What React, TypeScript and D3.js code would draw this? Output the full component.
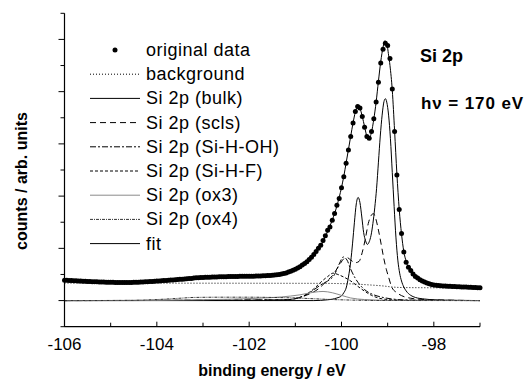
import * as d3 from 'd3';

// measured spectrum, 0.05 eV steps from -106 to -97 eV
const eStart = -106;
const eStep = 0.05;
const counts = [
  0.78, 0.78, 0.77, 0.77, 0.76, 0.76, 0.75, 0.75, 0.74, 0.74, 0.73, 0.73, 0.72, 0.72, 0.72, 0.71, 0.71, 0.71, 0.70, 0.70,
  0.70, 0.70, 0.69, 0.69, 0.69, 0.69, 0.69, 0.69, 0.69, 0.69, 0.70, 0.70, 0.70, 0.71, 0.71, 0.72, 0.72, 0.73, 0.73, 0.74,
  0.75, 0.75, 0.76, 0.77, 0.77, 0.78, 0.79, 0.79, 0.80, 0.81, 0.82, 0.82, 0.83, 0.84, 0.85, 0.85, 0.86, 0.87, 0.87, 0.88,
  0.88, 0.89, 0.89, 0.89, 0.90, 0.90, 0.90, 0.91, 0.91, 0.91, 0.91, 0.92, 0.92, 0.92, 0.92, 0.92, 0.93, 0.93, 0.93, 0.93,
  0.93, 0.93, 0.93, 0.94, 0.94, 0.94, 0.95, 0.95, 0.96, 0.96, 0.97, 0.98, 0.99, 1.00, 1.02, 1.04, 1.06, 1.09, 1.12, 1.16,
  1.20, 1.25, 1.30, 1.36, 1.42, 1.49, 1.57, 1.66, 1.76, 1.88, 2.00, 2.12, 2.30, 2.48, 2.69, 2.82, 3.08, 3.33, 3.65, 3.91,
  4.32, 4.74, 5.26, 5.77, 6.28, 6.80, 7.24, 7.43, 7.37, 7.05, 6.64, 6.28, 6.22, 6.47, 6.96, 7.60, 8.36, 9.10, 9.62, 9.85,
  9.77, 9.27, 8.10, 6.47, 4.81, 3.49, 2.57, 1.86, 1.47, 1.28, 1.15, 1.02, 0.92, 0.86, 0.80, 0.75, 0.71, 0.67, 0.64, 0.62,
  0.60, 0.59, 0.58, 0.57, 0.56, 0.56, 0.55, 0.55, 0.54, 0.54, 0.53, 0.53, 0.52, 0.52, 0.52, 0.51, 0.51, 0.50, 0.50, 0.49, 0.49
];

// [binding energy, intensity]
const background: [number, number][] = [
  [-106, 0.67], [-100.5, 0.66], [-99.8, 0.64], [-99.4, 0.6], [-99.1, 0.56], [-98.9, 0.52],
  [-98.7, 0.5], [-98, 0.49], [-97, 0.48]
];

const bulk: [number, number][] = [
  [-106, 0], [-100.6, 0], [-100.3, 0.03], [-100.1, 0.1], [-100.0, 0.18], [-99.95, 0.3], [-99.9, 0.48],
  [-99.85, 0.9], [-99.8, 1.5], [-99.76, 2.2], [-99.72, 3.0], [-99.68, 3.7], [-99.64, 3.95], [-99.6, 3.75],
  [-99.56, 3.2], [-99.52, 2.6], [-99.48, 2.3], [-99.44, 2.15], [-99.4, 2.25], [-99.36, 2.5], [-99.32, 2.95],
  [-99.28, 3.55], [-99.24, 4.3], [-99.2, 5.3], [-99.16, 6.3], [-99.12, 7.1], [-99.08, 7.62], [-99.05, 7.73],
  [-99.02, 7.6], [-98.98, 7.1], [-98.94, 6.2], [-98.9, 4.9], [-98.86, 3.6], [-98.82, 2.4], [-98.78, 1.55],
  [-98.74, 1.05], [-98.7, 0.75], [-98.65, 0.52], [-98.6, 0.37], [-98.5, 0.2], [-98.4, 0.12], [-98.2, 0.06],
  [-98.0, 0.03], [-97.5, 0.01], [-97, 0]
];

const scls: [number, number][] = [
  [-106, 0], [-101.2, 0.03], [-100.9, 0.12], [-100.7, 0.25], [-100.5, 0.45], [-100.35, 0.7], [-100.2, 0.95],
  [-100.05, 1.35], [-99.95, 1.6], [-99.88, 1.65], [-99.8, 1.55], [-99.7, 1.45], [-99.62, 1.5], [-99.55, 1.85],
  [-99.48, 2.4], [-99.42, 2.95], [-99.36, 3.25], [-99.31, 3.33], [-99.26, 3.15], [-99.2, 2.7], [-99.14, 2.15],
  [-99.09, 1.67], [-99.03, 1.2], [-98.98, 0.9], [-98.91, 0.51], [-98.8, 0.3], [-98.7, 0.19], [-98.5, 0.09],
  [-98.2, 0.04], [-97.5, 0.01], [-97, 0]
];

const siHOH: [number, number][] = [
  [-106, 0], [-101.2, 0.03], [-100.9, 0.12], [-100.65, 0.35], [-100.45, 0.6], [-100.3, 0.75], [-100.15, 1.0],
  [-100.05, 1.4], [-99.96, 1.67], [-99.88, 1.55], [-99.8, 1.2], [-99.7, 0.85], [-99.6, 0.6], [-99.5, 0.42],
  [-99.4, 0.3], [-99.3, 0.22], [-99.1, 0.12], [-98.9, 0.06], [-98.5, 0.02], [-97, 0]
];

const siHF: [number, number][] = [
  [-106, 0], [-101.3, 0.02], [-101.0, 0.08], [-100.8, 0.2], [-100.6, 0.45], [-100.45, 0.7], [-100.3, 0.92],
  [-100.18, 1.05], [-100.08, 1.0], [-99.95, 0.9], [-99.8, 0.75], [-99.65, 0.55], [-99.5, 0.36], [-99.35, 0.2],
  [-99.2, 0.1], [-99.0, 0.04], [-98.5, 0.01], [-97, 0]
];

const ox3: [number, number][] = [
  [-106, 0], [-104.5, 0], [-103.5, 0.02], [-102.5, 0.05], [-101.8, 0.09], [-101.3, 0.14], [-100.9, 0.22],
  [-100.6, 0.32], [-100.4, 0.35], [-100.2, 0.3], [-100.0, 0.2], [-99.8, 0.1], [-99.5, 0.04], [-99.0, 0.01], [-97, 0]
];

const ox4: [number, number][] = [
  [-106, 0], [-104.5, 0.01], [-104.0, 0.04], [-103.5, 0.09], [-103.2, 0.12], [-102.5, 0.13], [-102, 0.13],
  [-101.5, 0.12], [-101, 0.1], [-100.6, 0.07], [-100.2, 0.04], [-99.8, 0.02], [-99.3, 0.005], [-97, 0]
];

const fit: [number, number][] = [
  [-106, 0.76], [-105.5, 0.72], [-105, 0.7], [-104.5, 0.7], [-104, 0.75], [-103.5, 0.82], [-103, 0.88],
  [-102.5, 0.91], [-102, 0.93], [-101.5, 0.97], [-101.2, 1.06], [-101, 1.19], [-100.8, 1.41], [-100.6, 1.75],
  [-100.4, 2.25], [-100.3, 2.65], [-100.2, 3.08], [-100.1, 3.62], [-100.05, 3.95], [-100, 4.33], [-99.95, 4.76],
  [-99.9, 5.27], [-99.85, 5.78], [-99.8, 6.3], [-99.75, 6.8], [-99.7, 7.22], [-99.65, 7.42], [-99.6, 7.35],
  [-99.55, 7.05], [-99.5, 6.66], [-99.45, 6.3], [-99.4, 6.22], [-99.35, 6.45], [-99.3, 6.95], [-99.25, 7.6],
  [-99.2, 8.4], [-99.15, 9.15], [-99.1, 9.7], [-99.06, 9.95], [-99.02, 9.85], [-98.98, 9.4], [-98.95, 9.0],
  [-98.9, 8.05], [-98.85, 6.5], [-98.8, 4.85], [-98.75, 3.5], [-98.7, 2.55], [-98.65, 1.88], [-98.6, 1.5],
  [-98.5, 1.13], [-98.4, 0.93], [-98.2, 0.72], [-98, 0.6], [-97.5, 0.53], [-97, 0.49]
];

const xTicks = [-106, -105, -104, -103, -102, -101, -100, -99, -98, -97];
const xLabels = [-106, -104, -102, -100, -98];
const yTicks = [-1, 0, 1, 2, 3, 4, 5, 6, 7, 8, 9, 10, 11];

const series = [
  { name: 'background', data: background, dash: '1,2', color: '#000' },
  { name: 'Si 2p (bulk)', data: bulk, dash: null, color: '#000' },
  { name: 'Si 2p (scls)', data: scls, dash: '6,4', color: '#000' },
  { name: 'Si 2p (Si-H-OH)', data: siHOH, dash: '6,2,2,2', color: '#000' },
  { name: 'Si 2p (Si-H-F)', data: siHF, dash: '3,2', color: '#000' },
  { name: 'Si 2p (ox3)', data: ox3, dash: null, color: '#8a8a8a' },
  { name: 'Si 2p (ox4)', data: ox4, dash: '3,1,1,1', color: '#333' },
  { name: 'fit', data: fit, dash: null, color: '#000' }
];

const W = 527;
const H = 379;
const font = "'Liberation Sans', Arial, sans-serif";

export default function App() {
  const x = d3.scaleLinear().domain([-106, -97]).range([64.5, 480]);
  const y = d3.scaleLinear().domain([-1, 11]).range([326.7, 13.3]);

  const line = d3.line<[number, number]>()
    .x(d => x(d[0]))
    .y(d => y(d[1]))
    .curve(d3.curveMonotoneX);

  const points = counts.map((v, i) => [eStart + i * eStep, v] as [number, number]);

  const legendTop = 50;
  const legendGap = 24.2;

  return (
    <div style={{ position: 'absolute', left: 0, top: 0 }}>
      <svg width={W} height={H} style={{ display: 'block', background: '#fff' }}>
        {/* curves */}
        {series.map(s => (
          <path
            key={s.name}
            d={line(s.data) || ''}
            fill="none"
            stroke={s.color}
            strokeWidth={1}
            strokeDasharray={s.dash || undefined}
          />
        ))}
        {points.map((p, i) => (
          <circle key={i} cx={x(p[0])} cy={y(p[1])} r={2.5} fill="#000" />
        ))}

        {/* axes */}
        <line x1={x(-106)} x2={x(-106)} y1={y(11)} y2={y(-1)} stroke="#000" strokeWidth={1.2} />
        <line x1={x(-106)} x2={x(-97)} y1={y(-1)} y2={y(-1)} stroke="#000" strokeWidth={1.2} />
        {yTicks.map(t => (
          <line key={t} x1={x(-106) - (t % 2 === 0 ? 6 : 4)} x2={x(-106)} y1={y(t)} y2={y(t)} stroke="#000" strokeWidth={1} />
        ))}
        {xTicks.map(t => (
          <line key={t} x1={x(t)} x2={x(t)} y1={y(-1)} y2={y(-1) - (t % 2 === 0 ? 5 : 4)} stroke="#000" strokeWidth={1} />
        ))}
        {xLabels.map(t => (
          <text key={t} x={x(t)} y={350} textAnchor="middle" fontFamily={font} fontSize={17}>{t}</text>
        ))}
        <text x={272} y={376} textAnchor="middle" fontFamily={font} fontSize={16} fontWeight="bold">binding energy / eV</text>
        <text transform="translate(27,181) rotate(-90)" textAnchor="middle" fontFamily={font} fontSize={16} fontWeight="bold">counts / arb. units</text>

        {/* legend */}
        <g>
          <circle cx={115} cy={legendTop} r={2.5} fill="#000" />
          <text x={146} y={legendTop + 6} fontFamily={font} fontSize={18} letterSpacing={0.5}>original data</text>
          {series.map((s, i) => {
            const ly = legendTop + (i + 1) * legendGap;
            return (
              <g key={s.name}>
                <line x1={90} x2={140} y1={ly} y2={ly} stroke={s.color} strokeWidth={1} strokeDasharray={s.dash || undefined} />
                <text x={146} y={ly + 6} fontFamily={font} fontSize={18} letterSpacing={0.5}>{s.name}</text>
              </g>
            );
          })}
        </g>

        <text x={420} y={62} fontFamily={font} fontSize={18} fontWeight="bold">Si 2p</text>
        <text x={421} y={109} fontFamily={font} fontSize={17} fontWeight="bold" letterSpacing={0.9}>hν = 170 eV</text>
      </svg>
    </div>
  );
}
